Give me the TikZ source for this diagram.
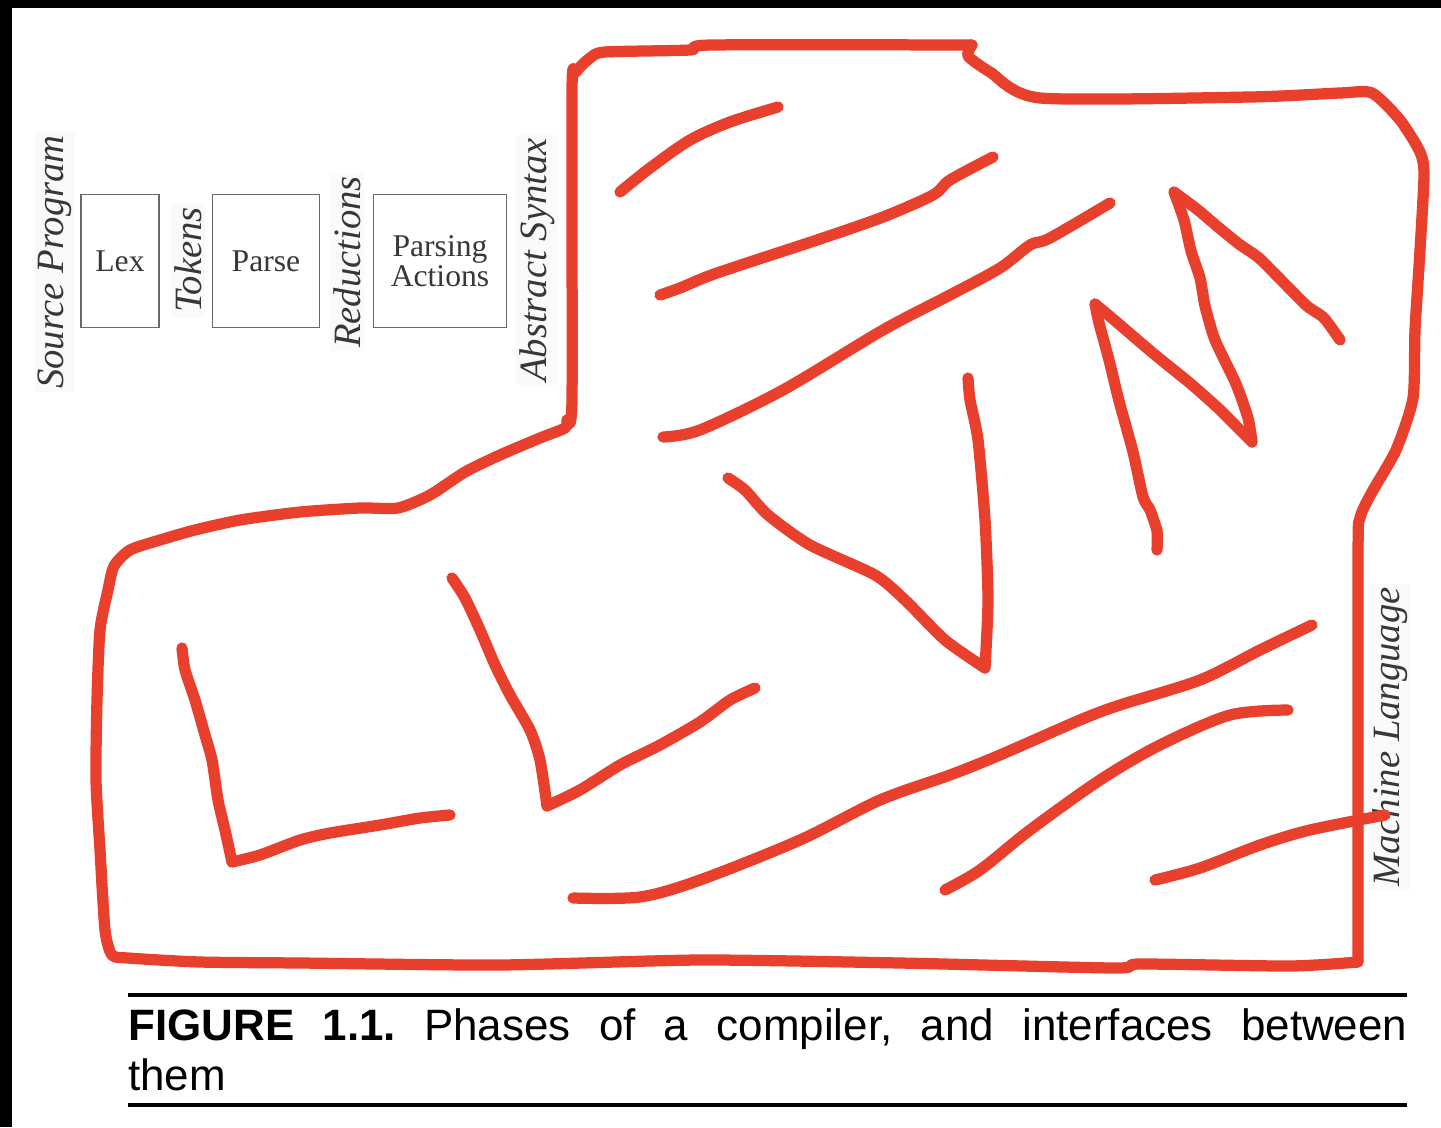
\documentclass[tikz,border=0pt]{standalone}
\usepackage{fontspec}
\setmainfont{Liberation Serif}
\newfontfamily\capfont{Liberation Sans}
\usetikzlibrary{positioning}

\definecolor{marker}{RGB}{232,64,44}
\definecolor{ink}{RGB}{55,55,55}

\begin{document}
\frenchspacing
\begin{tikzpicture}[x=0.2mm, y=-0.2mm,
  phase/.style={draw=ink!75, line width=1.1pt, align=center, text=ink, inner sep=0pt,
    minimum height=26.6mm, font=\fontsize{18}{17}\selectfont},
  iface/.style={rotate=90, text=ink, fill=black!2, inner sep=2pt,
    font=\fontsize{22}{22}\selectfont\itshape},
  pen/.style={draw=marker, line width=6.4pt, line cap=round, line join=round},
  rule/.style={line width=2.6pt}
]
\useasboundingbox (0,0) rectangle (1441,1127);
\fill[white] (0,0) rectangle (1441,1127);
% scan edges
\fill[black] (0,0) rectangle (1441,8);
\fill[black] (0,0) rectangle (12,1127);

% compiler phases
\node[phase, minimum width=15.6mm] (lex) at (120,261) {Lex};
\node[phase, minimum width=21.4mm] (parse) at (266,261) {Parse};
\node[phase, minimum width=26.6mm] (actions) at (440,261) {Parsing\\Actions};

\node[iface] (source) at (55,262) {Source Program};
\node[iface] (tokens) at (188,260) {Tokens};
\node[iface] (reductions) at (347,262) {Reductions};
\node[iface] (absyn) at (537,260) {Abstract Syntax};
\node[iface] (machine) at (1390,737) {Machine Language};

% red scribble
\draw[pen] plot[smooth, tension=0.4] coordinates {(567,420) (572,400) (572,90) (576,72)
  (590,58) (605,52) (690,50) (712,45) (972,45)};
\draw[pen] plot[smooth, tension=0.4] coordinates {(972,45) (968,56) (990,72) (1040,98)
  (1250,97) (1340,93) (1372,93) (1400,120) (1420,152) (1424,175) (1420,250) (1415,330)
  (1413,398) (1396,450) (1372,492) (1360,518) (1358,560) (1358,962)};
\draw[pen] plot[smooth, tension=0.4] coordinates {(1358,962) (1290,966) (1140,964) (1115,968)
  (900,963) (700,960) (500,965) (300,963) (200,962) (128,958) (112,955) (105,930) (100,850)
  (96,780) (97,700) (100,630) (108,590) (114,566) (130,550) (160,540) (195,530) (240,520)
  (300,512) (360,508) (398,508) (430,495) (465,472) (500,455) (540,438) (565,428) (567,420)};

\draw[pen] plot[smooth, tension=0.5] coordinates {(620,192) (650,168) (690,140) (730,122) (778,107)};
\draw[pen] plot[smooth, tension=0.5] coordinates {(660,295) (680,288) (717,273) (817,240)
  (883,217) (933,195) (950,180) (993,157)};
\draw[pen] plot[smooth, tension=0.5] coordinates {(663,437) (700,430) (783,390) (883,330)
  (950,295) (1000,268) (1030,245) (1050,238) (1110,203)};

% V
\draw[pen] plot[smooth, tension=0.4] coordinates {(728,478) (745,490) (768,515) (810,545)
  (875,575) (905,600) (945,640) (985,668)};
\draw[pen] plot[smooth, tension=0.4] coordinates {(985,668) (988,600) (985,520) (978,440)
  (970,400) (968,378)};
% M
\draw[pen] plot[smooth, tension=0.4] coordinates {(1157,550) (1157,531) (1150,510) (1143,497)
  (1133,452) (1119,401) (1109,360) (1099,323) (1095,304)};
\draw[pen] plot[smooth, tension=0.4] coordinates {(1095,304) (1113,319) (1154,354) (1191,384)
  (1218,408) (1239,429) (1252,442)};
\draw[pen] plot[smooth, tension=0.4] coordinates {(1252,442) (1248,418) (1236,384) (1215,340)
  (1205,306) (1200,278) (1191,251) (1184,220) (1174,192)};
\draw[pen] plot[smooth, tension=0.4] coordinates {(1174,192) (1198,210) (1218,227) (1239,244)
  (1259,258) (1283,282) (1307,306) (1324,318) (1340,340)};

% L L
\draw[pen] plot[smooth, tension=0.4] coordinates {(182,648) (185,670) (195,700) (205,735)
  (212,760) (218,800) (225,830) (232,862)};
\draw[pen] plot[smooth, tension=0.4] coordinates {(232,862) (260,855) (300,840) (330,833)
  (380,825) (420,818) (450,815)};
\draw[pen] plot[smooth, tension=0.4] coordinates {(452,578) (465,598) (480,630) (495,665)
  (510,695) (530,730) (540,760) (547,806)};
\draw[pen] plot[smooth, tension=0.4] coordinates {(547,806) (580,790) (620,765) (660,745)
  (700,722) (730,700) (755,688)};

% lower strokes
\draw[pen] plot[smooth, tension=0.5] coordinates {(573,898) (640,897) (700,880) (800,840)
  (880,800) (950,775) (1000,755) (1080,720) (1120,705) (1200,680) (1260,650) (1312,625)};
\draw[pen] plot[smooth, tension=0.5] coordinates {(945,890) (980,870) (1030,830) (1100,780)
  (1160,745) (1230,715) (1288,710)};
\draw[pen] plot[smooth, tension=0.5] coordinates {(1155,880) (1200,868) (1260,845) (1310,830)
  (1385,815)};

% caption
\draw[rule] (128,995) -- (1407,995);
\node[anchor=base west, inner sep=0pt, text width=255.8mm, align=justify,
  font=\capfont\fontsize{25}{28.5}\selectfont] (caption) at (128,1040)
  {\textbf{FIGURE 1.1.} Phases of a compiler, and interfaces between\linebreak them};
\draw[rule] (128,1105) -- (1407,1105);
\end{tikzpicture}
\end{document}
